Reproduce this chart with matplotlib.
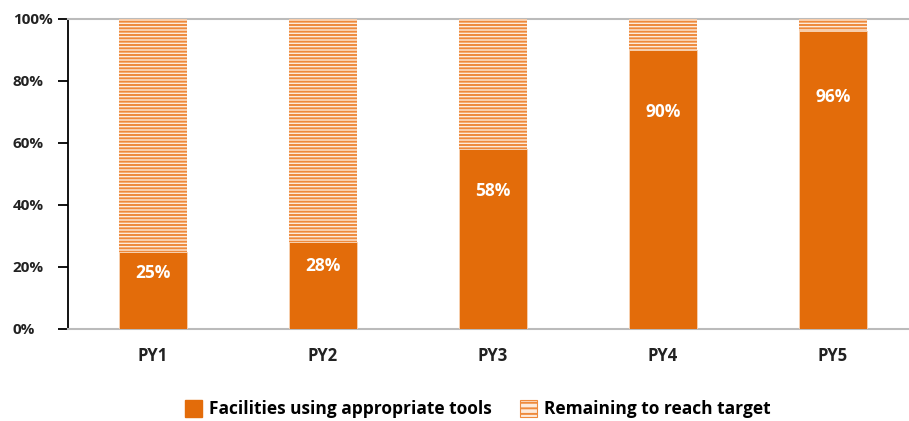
import numpy as np
import matplotlib.pyplot as plt
from matplotlib.patches import Patch

# data
years = ['PY1', 'PY2', 'PY3', 'PY4', 'PY5']
using_tools = np.array([25, 28, 58, 90, 96])
remaining = 100 - using_tools

ORANGE = '#E36C0A'
plt.rcParams['font.family'] = ['Open Sans', 'DejaVu Sans']
plt.rcParams['hatch.linewidth'] = 1.4

fig = plt.figure(figsize=(9.09, 4.21), dpi=100)
ax = fig.add_axes([68 / 909, 1 - 329 / 421, (918 - 68) / 909, 310 / 421])

x = np.arange(len(years))
ax.bar(x, using_tools, width=0.4, color=ORANGE, edgecolor='#F8D3B5', linewidth=0.6,
       label='Facilities using appropriate tools', zorder=3)
ax.bar(x, remaining, width=0.4, bottom=using_tools, facecolor='#FDEBDD', hatch='-----',
       edgecolor='#EE8A3C', linewidth=0, label='Remaining to reach target', zorder=3)

for xi, v in zip(x, using_tools):
    ax.text(xi, 0.8 * v - 2, f'{v}%', ha='center', va='center', color='white',
            fontsize=12.5, fontweight='bold', zorder=4)

ax.set_xlim(-0.5, 4.5)
ax.set_ylim(0, 100)
ax.set_xticks(x)
ax.set_xticklabels(years, fontsize=12, fontweight='bold', color='#222222')
ax.set_yticks(np.arange(0, 101, 20))
ax.set_yticklabels([f'{t}%' for t in range(0, 101, 20)], fontsize=11,
                   fontweight='bold', color='#222222')
for lbl in ax.get_yticklabels():
    lbl.set_horizontalalignment('left')
ax.tick_params(axis='y', length=7.2, width=1.3, pad=32.5, color='black')
ax.tick_params(axis='x', length=0, pad=13)

ax.spines['left'].set_color('black')
ax.spines['left'].set_linewidth(1.3)
ax.spines['bottom'].set_color('#BBBBBB')
ax.spines['bottom'].set_linewidth(1.5)
ax.spines['top'].set_color('#BBBBBB')
ax.spines['top'].set_linewidth(1.5)
ax.spines['right'].set_visible(False)

handles = [Patch(facecolor=ORANGE, edgecolor=ORANGE, label='Facilities using appropriate tools'),
           Patch(facecolor='#FDEBDD', edgecolor='#EE8A3C', hatch='---', linewidth=0.8,
                 label='Remaining to reach target')]
fig.legend(handles=handles, loc='center', bbox_to_anchor=(478 / 909, 1 - 409 / 421),
           ncol=2, frameon=False, prop={'weight': 'bold', 'size': 12.5},
           handlelength=1.0, handleheight=1.2, columnspacing=1.6, handletextpad=0.4)

fig.savefig('out.png', dpi=100)
